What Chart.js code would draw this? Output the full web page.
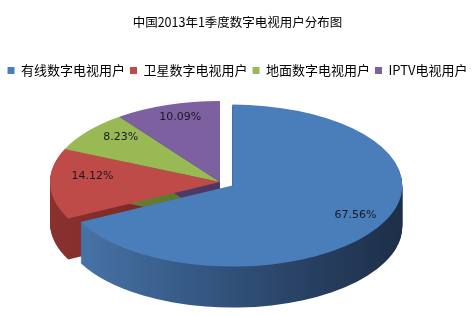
<!DOCTYPE html>
<html>
<head>
<meta charset="utf-8">
<script src="https://cdn.jsdelivr.net/npm/chart.js@4"></script>
<style>
  html, body { margin: 0; padding: 0; background: #fff; }
</style>
</head>
<body>
<canvas id="tvPie" width="475" height="316"></canvas>
<script>
// 数据
const categories = ["有线数字电视用户", "卫星数字电视用户", "地面数字电视用户", "IPTV电视用户"];
const shares = [67.56, 14.12, 8.23, 10.09];
const topColors = ["#4a7ebb", "#be4b48", "#98b954", "#7d60a0"];
const sideColors = [
  ["#4a77ab", "#385d8a", "#2a4468", "#1d2f48"],
  ["#8a312e", "#782927", "#682120", "#581a19"],
  ["#6f8a3a", "#607a30", "#526a28", "#445a20"],
  ["#5c4578", "#503c6a", "#44325c", "#38284e"]
];
// 分离出来的扇区 (占半径的比例)
const explode = [0.085, 0, 0, 0];

// 3D 投影参数 (椭圆中心、半轴、厚度)
const PIE = { cx: 220, cy: 182, rx: 170, ry: 81, depth: 41 };
const CJK = "'Noto Sans CJK SC', 'Noto Sans', sans-serif";

// 用 Chart.js 自己的扇区元素画一层 (压扁 + 下移 + 分离)
function drawSlice(ctx, el, i, dy, fill) {
  const r = el.outerRadius;
  const mid = (el.startAngle + el.endAngle) / 2;
  ctx.save();
  ctx.translate(PIE.cx, PIE.cy + dy);
  ctx.scale(PIE.rx / r, PIE.ry / r);
  ctx.translate(-el.x, -el.y);
  ctx.translate(Math.cos(mid) * explode[i] * r, Math.sin(mid) * explode[i] * r);
  if (typeof fill === "function") fill = fill(el);
  const fake = Object.assign(Object.create(Object.getPrototypeOf(el)), el, {
    options: Object.assign({}, el.options, { backgroundColor: fill, borderWidth: 0, offset: 0 })
  });
  fake.draw(ctx);
  ctx.restore();
}

const pie3d = {
  id: "pie3d",
  beforeDatasetsDraw(chart) {
    const ctx = chart.ctx;
    const arcs = chart.getDatasetMeta(0).data;
    // 侧面：后面的扇区先画，有线 (前面) 最后
    [1, 2, 3, 0].forEach((i) => {
      const side = (el) => {
        const g = ctx.createLinearGradient(el.x - el.outerRadius, 0, el.x + el.outerRadius, 0);
        sideColors[i].forEach((c, k) => g.addColorStop(k / 3, c));
        return g;
      };
      for (let d = PIE.depth; d >= 1; d--) drawSlice(ctx, arcs[i], i, d, side);
    });
    // 顶面
    arcs.forEach((el, i) => drawSlice(ctx, el, i, 0, topColors[i]));
    return false;
  },
  afterDraw(chart) {
    const ctx = chart.ctx;
    const arcs = chart.getDatasetMeta(0).data;
    ctx.save();
    ctx.font = "11px 'DejaVu Sans', sans-serif";
    ctx.fillStyle = "#1a1a24";
    ctx.textAlign = "center";
    ctx.textBaseline = "middle";
    arcs.forEach((el, i) => {
      const mid = (el.startAngle + el.endAngle) / 2;
      const f = (i === 0 ? 0.85 : 0.75) + explode[i];
      const x = PIE.cx + Math.cos(mid) * f * PIE.rx;
      const y = PIE.cy + Math.sin(mid) * f * PIE.ry - 7;
      ctx.fillText(shares[i].toFixed(2) + "%", x, y);
    });
    ctx.restore();
  }
};

new Chart(document.getElementById("tvPie").getContext("2d"), {
  type: "pie",
  data: {
    labels: categories,
    datasets: [
      {
        data: shares,
        backgroundColor: topColors,
        borderWidth: 0
      }
    ]
  },
  options: {
    responsive: false,
    animation: false,
    events: [],
    plugins: {
      title: {
        display: true,
        text: "中国2013年1季度数字电视用户分布图",
        color: "#000",
        font: { family: CJK, size: 12.5, weight: "normal" },
        padding: { top: 15, bottom: 29 }
      },
      legend: {
        position: "top",
        labels: {
          color: "#000",
          boxWidth: 7,
          boxHeight: 7,
          padding: 5,
          font: { family: CJK, size: 13 }
        }
      },
      tooltip: { enabled: false }
    }
  },
  plugins: [pie3d]
});
</script>
</body>
</html>
